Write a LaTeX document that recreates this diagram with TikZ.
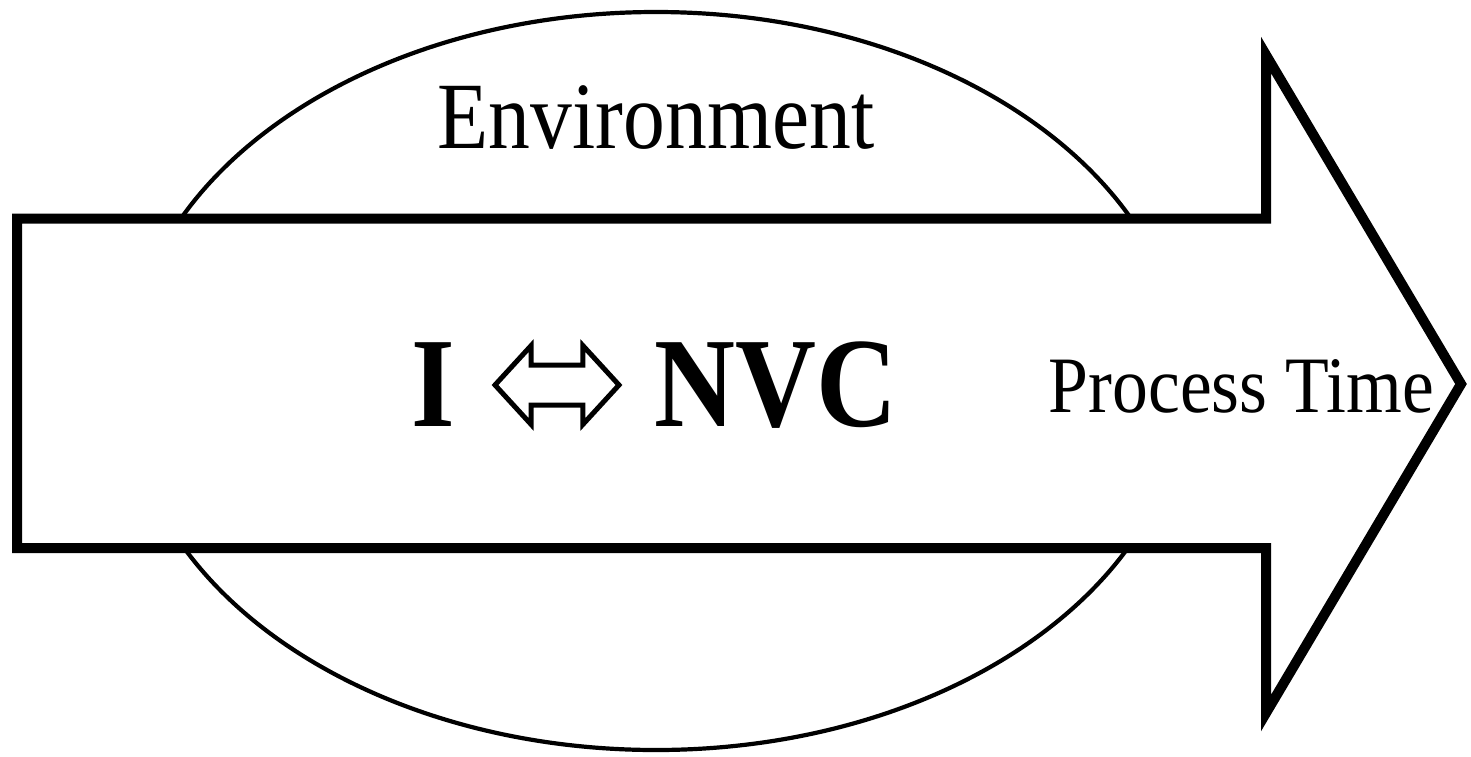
\documentclass[tikz,border=0pt]{standalone}
\usepackage{graphicx}
\usepackage{fontspec}
\setmainfont{Liberation Serif}
\usepackage{tikz}
\usetikzlibrary{positioning}
\usetikzlibrary{shapes.arrows}

\newcommand{\hsqueeze}[2]{\scalebox{#1}[1]{#2}}

\begin{document}
\begin{tikzpicture}[x=1pt,y=-1pt,
  timearrow/.style={draw,line width=10pt,fill=white},
  labeltext/.style={inner sep=0pt,anchor=base}]
\useasboundingbox (0,0) rectangle (1471,756);

% Environment
\draw[line width=4.2pt] (656,381) ellipse [x radius=529, y radius=369];
\node[labeltext] (env) at (656,148) {\fontsize{95}{100}\selectfont\hsqueeze{0.88}{Environment}};

% Process arrow
\draw[timearrow] (17,218.5) -- (1266,218.5) -- (1266,55) -- (1461,384)
  -- (1266,713) -- (1266,548) -- (17,548) -- cycle;
\node[labeltext] (time) at (1241.5,412) {\fontsize{80}{86}\selectfont\hsqueeze{0.895}{Process Time}};

% I <-> NVC
\node[double arrow,draw,line width=5pt,minimum height=124pt,inner xsep=0pt,inner ysep=17.5pt,
  double arrow head extend=19.5pt,double arrow tip angle=95] (equiv) at (557,385) {};
\node[inner sep=0pt,left=36pt of equiv] (i) {\fontsize{128}{134}\selectfont\bfseries\hsqueeze{0.875}{I}};
\node[inner sep=0pt,right=32pt of equiv] (nvc) {\fontsize{128}{134}\selectfont\bfseries\hsqueeze{0.875}{NVC}};
\end{tikzpicture}
\end{document}
